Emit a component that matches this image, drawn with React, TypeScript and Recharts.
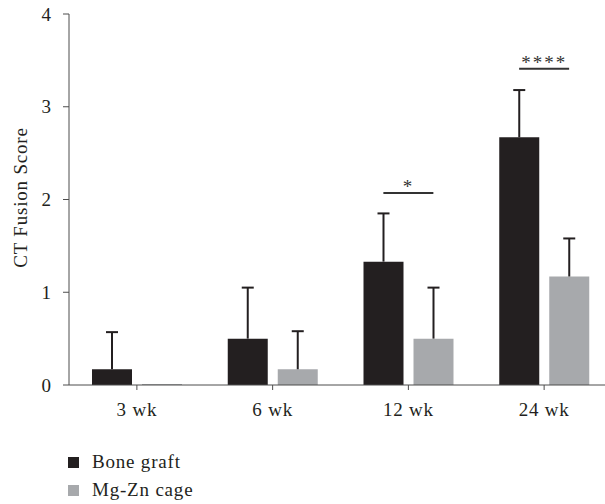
import { Bar, BarChart, Legend, ReferenceLine, XAxis, YAxis } from "recharts";

const weeks = ["3 wk", "6 wk", "12 wk", "24 wk"];
const boneGraft = [0.17, 0.5, 1.33, 2.67];
const boneGraftSd = [0.4, 0.55, 0.52, 0.51];
const mgZnCage = [0.01, 0.17, 0.5, 1.17];
const mgZnCageSd = [0, 0.41, 0.55, 0.41];
const sigLevel = [null, null, 2.07, 3.41];
const sigMark = ["", "", "*", "****"];
const yTicks = [0, 1, 2, 3, 4];

const data = weeks.map((w, i) => ({
  week: w,
  bone: boneGraft[i],
  boneSd: boneGraftSd[i],
  mg: mgZnCage[i],
  mgSd: mgZnCageSd[i],
}));

const FONT = "'Liberation Serif', 'DejaVu Serif', serif";
const FS = 19;
const LS = 0.8;
const DARK = "#231f20";
const GREY = "#a7a9ac";
const AXIS = "#4d4d4d";
const BAR_SIZE = 40;
const BAR_GAP = 10;

// upward-only whisker drawn on top of the stacked value bar
const Whisker = (props: any) => {
  const { x, y, width, height } = props;
  if (!height || height <= 0) return <g />;
  const cx = x + width / 2;
  return (
    <g stroke={DARK} strokeWidth={2}>
      <line x1={cx} y1={y} x2={cx} y2={y + height} />
      <line x1={cx - 6} y1={y} x2={cx + 6} y2={y} />
    </g>
  );
};

const LegendBox = ({ payload }: any) => (
  <div
    style={{
      height: 89,
      boxSizing: "border-box",
      paddingTop: 33,
      paddingLeft: 68,
      fontFamily: FONT,
      fontSize: FS,
      letterSpacing: LS,
      color: DARK,
    }}
  >
    {(payload || [])
      .filter((p: any) => p.type !== "none")
      .map((p: any) => (
        <div key={p.value} style={{ height: 28, display: "flex", alignItems: "center" }}>
          <span style={{ width: 11, height: 11, background: p.color, marginRight: 13 }} />
          {p.value}
        </div>
      ))}
  </div>
);

export default function App() {
  return (
    <div
      style={{
        position: "fixed",
        left: 0,
        top: 0,
        width: 605,
        height: 504,
        overflow: "hidden",
        background: "#fff",
      }}
    >
      <BarChart
        width={620}
        height={504}
        data={data}
        margin={{ top: 14, right: 8, left: 0, bottom: 0 }}
        barSize={BAR_SIZE}
        barGap={BAR_GAP}
      >
        <XAxis
          dataKey="week"
          height={30}
          tickSize={5}
          tickMargin={13}
          stroke={AXIS}
          tick={{ fill: DARK, fontFamily: FONT, fontSize: FS, letterSpacing: LS }}
        />
        <YAxis
          width={69}
          domain={[0, 4]}
          ticks={yTicks}
          tickSize={6}
          tickMargin={12}
          stroke={AXIS}
          tick={{ fill: DARK, fontFamily: FONT, fontSize: FS }}
          label={{
            value: "CT Fusion Score",
            angle: -90,
            position: "center",
            dx: -14,
            dy: -2,
            fill: DARK,
            fontFamily: FONT,
            fontSize: FS,
            letterSpacing: LS,
          }}
        />
        <Legend
          verticalAlign="bottom"
          align="left"
          content={<LegendBox />}
        />
        <Bar dataKey="bone" name="Bone graft" stackId="b" fill={DARK} isAnimationActive={false} />
        <Bar
          dataKey="boneSd"
          stackId="b"
          legendType="none"
          shape={<Whisker />}
          isAnimationActive={false}
        />
        <Bar dataKey="mg" name="Mg-Zn cage" stackId="m" fill={GREY} isAnimationActive={false} />
        <Bar
          dataKey="mgSd"
          stackId="m"
          legendType="none"
          shape={<Whisker />}
          isAnimationActive={false}
        />
        {weeks.map((w, i) =>
          sigLevel[i] == null ? null : (
            <ReferenceLine
              key={w}
              segment={[
                { x: w, y: sigLevel[i] as number },
                { x: w, y: sigLevel[i] as number },
              ]}
              shape={(p: any) => {
                const half = (BAR_SIZE + BAR_GAP) / 2;
                return (
                  <g>
                    <line
                      x1={p.x1 - half}
                      x2={p.x1 + half}
                      y1={p.y1}
                      y2={p.y1}
                      stroke="#333"
                      strokeWidth={2}
                    />
                    <text
                      x={p.x1}
                      y={p.y1}
                      textAnchor="middle"
                      fontFamily={FONT}
                      fontSize={FS}
                      letterSpacing={2}
                      fill="#333"
                    >
                      {sigMark[i]}
                    </text>
                  </g>
                );
              }}
            />
          )
        )}
      </BarChart>
    </div>
  );
}
